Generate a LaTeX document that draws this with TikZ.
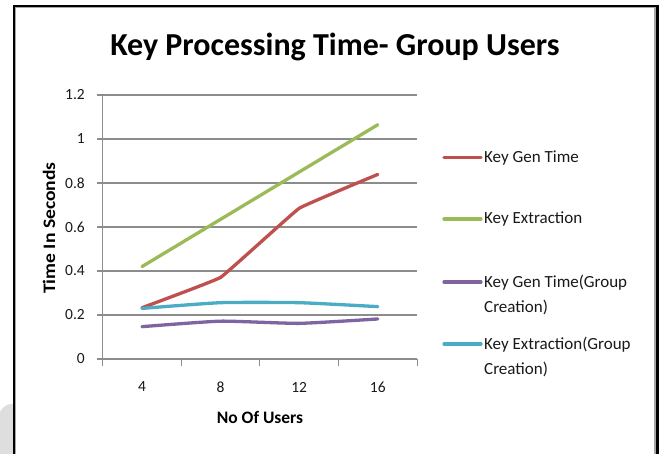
\documentclass[tikz,border=0pt]{standalone}
\usepackage{fontspec}
\setmainfont{Carlito}
\definecolor{gridgray}{HTML}{8C8C8C}
\definecolor{serred}{HTML}{C0504D}
\definecolor{sergreen}{HTML}{9BBB59}
\definecolor{serpurple}{HTML}{8064A2}
\definecolor{sercyan}{HTML}{4BACC6}
\begin{document}
\begin{tikzpicture}[x=1pt,y=-1pt,
  gridline/.style={draw=gridgray, line width=1.1pt},
  series/.style={line width=3.3pt, line join=round, line cap=round},
  ticklabel/.style={font=\fontsize{15.5}{18}\selectfont, text=black!90, inner sep=0pt},
  legendtext/.style={font=\fontsize{17}{25}\selectfont, text=black!90, anchor=west, align=left, inner sep=0pt},
  axistitle/.style={font=\bfseries\fontsize{17.5}{20}\selectfont, inner sep=0pt}]
\useasboundingbox (0,0) rectangle (662,454);
\fill[white] (0,0) rectangle (662,454);
% soft shadow at the lower left corner
\fill[black!13] (0,454) -- (0,412) .. controls (4,405) and (8,404) .. (13,404) -- (13,454) -- cycle;
% chart frame
\draw[black!35, line width=1.2pt] (15.8,454) -- (15.8,7.8) -- (655,7.8) -- (655,454);
\draw[black, line width=2.4pt] (14,454) -- (14,6) -- (657.5,6) -- (657.5,454);

% title
\node[font=\bfseries\fontsize{32}{36}\selectfont, inner sep=0pt] (title) at (335,47) {Key Processing Time- Group Users};

% horizontal grid lines with value labels
\foreach \k/\lab in {0/0,1/0.2,2/0.4,3/0.6,4/0.8,5/1,6/1.2}{
  \draw[gridline] (96.7,359-44*\k) -- (417,359-44*\k);
  \node[ticklabel, anchor=east] at (85,359-44*\k) {\lab};
}
% axes
\draw[gridline] (102.7,95) -- (102.7,366);
\foreach \i in {0,...,4}{
  \draw[gridline] (102.7+78.6*\i,359) -- (102.7+78.6*\i,366);
}
\foreach \i/\lab in {1/4,2/8,3/12,4/16}{
  \node[ticklabel] at (102.7+78.6*\i-39.3,387) {\lab};
}
\node[axistitle] (xtitle) at (260,417) {No Of Users};
\node[axistitle, rotate=90] (ytitle) at (49,228) {\scalebox{1.12}[1]{Time In Seconds}};

% data series
\begin{scope}[shift={(102.7,359)}, x=78.6pt, y=220pt]
  \draw[series, serred] plot[smooth, tension=0.12] coordinates {(0.5,0.233) (1.5,0.371) (2.5,0.685) (3.5,0.839)};
  \draw[series, sergreen] plot[smooth, tension=0.25] coordinates {(0.5,0.42) (1.5,0.635) (2.5,0.85) (3.5,1.065)};
  \draw[series, serpurple] plot[smooth, tension=0.3] coordinates {(0.5,0.147) (1.5,0.172) (2.5,0.162) (3.5,0.182)};
  \draw[series, sercyan] plot[smooth, tension=0.3] coordinates {(0.5,0.23) (1.5,0.256) (2.5,0.256) (3.5,0.238)};
\end{scope}

% legend
\draw[series, serred] (444,157.7) -- (481,157.7);
\node[legendtext] (lg1) at (484,157.7) {Key Gen Time};
\draw[series, sergreen] (444,219) -- (481,219);
\node[legendtext] (lg2) at (484,219) {Key Extraction};
\draw[series, serpurple] (444,282) -- (481,282);
\node[legendtext, anchor=north west] (lg3) at (484,274.5) {Key Gen Time(Group\\Creation)};
\draw[series, sercyan] (444,344) -- (481,344);
\node[legendtext, anchor=north west] (lg4) at (484,336.5) {Key Extraction(Group\\Creation)};
\end{tikzpicture}
\end{document}
